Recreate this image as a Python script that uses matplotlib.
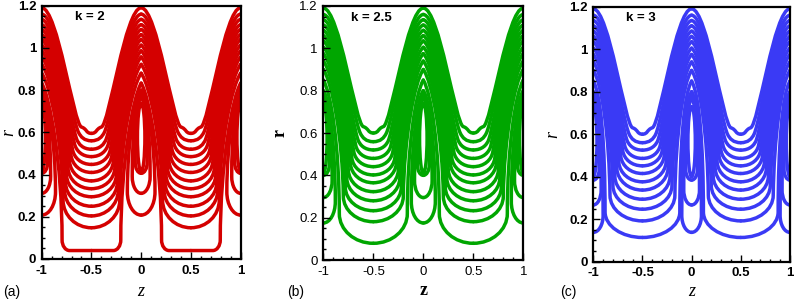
import numpy as np
import matplotlib.pyplot as plt
from matplotlib.path import Path
from matplotlib.patches import PathPatch, Ellipse
from matplotlib.ticker import MultipleLocator, FuncFormatter

plt.rcParams['axes.unicode_minus'] = False

# ---- data (r values, z half-widths) ----
# outer family: U-shaped lines centred at z = +-0.5, peaks (chevrons) at z = 0, +-1
a_bottom_k2 = [0.595, 0.56, 0.52, 0.485, 0.448, 0.41, 0.37, 0.333, 0.295, 0.25, 0.204, 0.148, 0.04]
a_width_k2 = [0.10, 0.13, 0.15, 0.17, 0.19, 0.205, 0.22, 0.235, 0.25, 0.26, 0.27, 0.285, 0.295]
a_rise_k2 = [0.03, 0.04, 0.05, 0.06, 0.07, 0.08, 0.09, 0.095, 0.10, 0.11, 0.12, 0.13, 0.05]
a_flat_k2 = [0, 0, 0, 0, 0, 0, 0, 0, 0, 0, 0, 0, 0.22]
a_peak_k2 = [1.19, 1.16, 1.135, 1.11, 1.087, 1.063, 1.04, 1.013, 0.986, 0.957, 0.922, 0.88, 0.833]

a_bottom_k25 = [0.60, 0.559, 0.52, 0.48, 0.441, 0.402, 0.365, 0.323, 0.28, 0.233, 0.181, 0.079]
a_width_k25 = [0.10, 0.13, 0.155, 0.175, 0.195, 0.215, 0.23, 0.25, 0.265, 0.28, 0.30, 0.34]
a_rise_k25 = [0.03, 0.04, 0.05, 0.06, 0.07, 0.08, 0.09, 0.10, 0.105, 0.11, 0.12, 0.14]
a_flat_k25 = [0] * 12
a_peak_k25 = [1.19, 1.16, 1.135, 1.11, 1.085, 1.06, 1.035, 1.005, 0.975, 0.94, 0.9, 0.85]

a_bottom_k3 = [0.60, 0.56, 0.525, 0.486, 0.451, 0.415, 0.376, 0.337, 0.294, 0.247, 0.192, 0.114]
a_width_k3 = [0.10, 0.135, 0.16, 0.18, 0.20, 0.22, 0.24, 0.26, 0.28, 0.30, 0.33, 0.38]
a_rise_k3 = [0.03, 0.04, 0.05, 0.06, 0.07, 0.08, 0.09, 0.10, 0.105, 0.11, 0.12, 0.12]
a_flat_k3 = [0] * 12
a_peak_k3 = [1.19, 1.16, 1.135, 1.11, 1.085, 1.06, 1.035, 1.005, 0.975, 0.94, 0.9, 0.85]

# inner family: loops around the trapped bolus at z = 0, +-1
b_bottom_k2 = [0.208, 0.311, 0.406]
b_width_k2 = [0.139, 0.09, 0.06]
b_rise_k2 = [0.11, 0.08, 0.05]
b_bottom_k25 = [0.175, 0.295, 0.40]
b_width_k25 = [0.12, 0.088, 0.06]
b_rise_k25 = [0.10, 0.08, 0.05]
b_bottom_k3 = [0.138, 0.267, 0.384]
b_width_k3 = [0.10, 0.08, 0.06]
b_rise_k3 = [0.08, 0.07, 0.05]
b_top = [0.80, 0.78, 0.765]

eye_k2 = (0.414, 0.737)
eye_k25 = (0.41, 0.74)
eye_k3 = (0.40, 0.73)

crests = [-1, 0, 1]
KAPPA = 0.5523
LW = 2.5


def outer_half(p, b, w, rise, flat, f):
    """half period of an outer line, s = distance from crest (0) to trough (0.5)"""
    K = np.array([0.5 - w, b + rise])
    lift = 0.05 * (1 - f) if f > 0 else 0.012
    P1 = np.array([K[0] - 0.08 * (1 - f), K[1] + 0.5 * (p - K[1]) * f + lift])
    P2 = np.array([0.16 * (1 - f) + 0.08 * f, p - 0.063 * f])
    d = P1 - K
    k = min(rise * KAPPA / max(abs(d[1]), 1e-6), (w - flat) * KAPPA / max(abs(d[0]), 1e-6))
    Q1 = K - d * k
    Q2 = np.array([0.5 - flat - (w - flat) * KAPPA, b])
    Q3 = np.array([0.5 - flat, b])
    verts = [(0, p), tuple(P2), tuple(P1), tuple(K), tuple(Q1), tuple(Q2), tuple(Q3), (0.5, b)]
    codes = [Path.MOVETO] + [Path.CURVE4] * 6 + [Path.LINETO]
    return verts, codes


def inner_half(bb, wb, rb, tb):
    verts = [(0, bb), (wb * KAPPA, bb), (wb, bb + rb * (1 - KAPPA)), (wb, bb + rb),
             (wb, bb + rb + 0.5 * (tb - bb - rb)), (0.06, tb - 0.035), (0, tb)]
    codes = [Path.MOVETO] + [Path.CURVE4] * 6
    return verts, codes


def place(ax, verts, codes, color):
    for c in crests:
        for sgn in (1, -1):
            vz = [(c + sgn * s, r) for s, r in verts]
            ax.add_patch(PathPatch(Path(vz, codes), fill=False, edgecolor=color, lw=LW,
                                   capstyle='round', joinstyle='round'))


def draw_panel(ax, color, a_bottom, a_width, a_rise, a_flat, a_peak,
               b_bottom, b_width, b_rise, eye):
    n = len(a_bottom)
    for j in range(n):
        f = j / (n - 1)
        v, c = outer_half(a_peak[j], a_bottom[j], a_width[j], a_rise[j], a_flat[j], f)
        place(ax, v, c, color)
    for i in range(len(b_bottom)):
        v, c = inner_half(b_bottom[i], b_width[i], b_rise[i], b_top[i])
        place(ax, v, c, color)
    for c in crests:
        ax.add_patch(Ellipse((c, (eye[0] + eye[1]) / 2), 0.075, eye[1] - eye[0],
                             fill=False, edgecolor=color, lw=LW))


def style_axes(ax, bold):
    ax.set_xlim(-1, 1)
    ax.set_ylim(0, 1.2)
    ax.xaxis.set_major_locator(MultipleLocator(0.5))
    ax.xaxis.set_minor_locator(MultipleLocator(0.1))
    ax.yaxis.set_major_locator(MultipleLocator(0.2))
    ax.yaxis.set_minor_locator(MultipleLocator(0.05))
    fmt = FuncFormatter(lambda v, pos: '%g' % round(v, 2))
    ax.xaxis.set_major_formatter(fmt)
    ax.yaxis.set_major_formatter(fmt)
    ax.tick_params(which='both', direction='in', width=1)
    ax.tick_params(which='major', length=5, labelsize=9.5, pad=4)
    ax.tick_params(which='minor', length=2.5)
    for lab in ax.get_xticklabels() + ax.get_yticklabels():
        lab.set_family('Liberation Sans')
        lab.set_fontweight('bold' if bold else 'normal')
    for sp in ax.spines.values():
        sp.set_linewidth(1.6)


fig = plt.figure(figsize=(7.94, 3.0), dpi=100)
ax1 = fig.add_axes([0.0525, 0.1367, 0.2506, 0.8444])
ax2 = fig.add_axes([0.4072, 0.1333, 0.2519, 0.8467])
ax3 = fig.add_axes([0.7472, 0.1277, 0.2477, 0.85])

draw_panel(ax1, '#d40000', a_bottom_k2, a_width_k2, a_rise_k2, a_flat_k2, a_peak_k2,
           b_bottom_k2, b_width_k2, b_rise_k2, eye_k2)
draw_panel(ax2, '#00a600', a_bottom_k25, a_width_k25, a_rise_k25, a_flat_k25, a_peak_k25,
           b_bottom_k25, b_width_k25, b_rise_k25, eye_k25)
draw_panel(ax3, '#3a3af5', a_bottom_k3, a_width_k3, a_rise_k3, a_flat_k3, a_peak_k3,
           b_bottom_k3, b_width_k3, b_rise_k3, eye_k3)

style_axes(ax1, True)
style_axes(ax2, False)
style_axes(ax3, True)

# axis labels: italic in (a) and (c), bold upright in (b)
label_style = [dict(fontstyle='italic'), dict(fontweight='bold'), dict(fontstyle='italic')]
xlab_y = [-0.127, -0.122, -0.116]
ylab_x = [-0.165, -0.214, -0.207]
for ax, st, xy, yx in zip([ax1, ax2, ax3], label_style, xlab_y, ylab_x):
    ax.text(0.5, xy, 'z', transform=ax.transAxes, ha='center', va='center',
            family='Liberation Serif', fontsize=13, **st)
    ax.text(yx, 0.5, 'r', transform=ax.transAxes, ha='center', va='center',
            rotation=90, family='Liberation Serif', fontsize=13, **st)

for ax, txt in [(ax1, 'k = 2'), (ax2, 'k = 2.5'), (ax3, 'k = 3')]:
    ax.text(-0.52, 1.145, txt, ha='center', va='center', fontsize=9.5,
            fontweight='bold', family='Liberation Sans')

for ax, lab, xo, yo in [(ax1, '(a)', -0.195, -0.13), (ax2, '(b)', -0.183, -0.126),
                        (ax3, '(c)', -0.17, -0.12)]:
    ax.text(xo, yo, lab, transform=ax.transAxes, ha='left', va='center',
            fontsize=10, family='Liberation Sans')

plt.savefig('out.png', dpi=100)
